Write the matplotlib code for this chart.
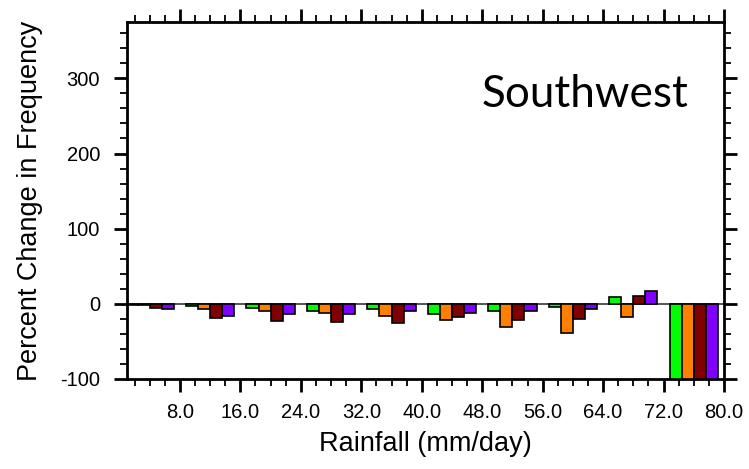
import matplotlib
matplotlib.use("Agg")
import matplotlib.pyplot as plt
from matplotlib.ticker import MultipleLocator, FixedLocator
import numpy as np

bin_starts = [0, 8, 16, 24, 32, 40, 48, 56, 64, 72]
series_colors = ["#00FF00", "#FF8000", "#800000", "#8000FF"]
green = [-1, -3, -5, -9, -7, -13, -9, -4, 9, -100]
orange = [-2, -7, -10, -12, -16, -22, -31, -39, -18, -100]
darkred = [-5, -19, -23, -24, -25, -18, -22, -20, 11, -100]
purple = [-7, -16, -14, -14, -9, -12, -9, -7, 17, -100]
series = [green, orange, darkred, purple]
xtick_vals = [8, 16, 24, 32, 40, 48, 56, 64, 72, 80]
xtick_labels = ["8.0", "16.0", "24.0", "32.0", "40.0", "48.0", "56.0", "64.0", "72.0", "80.0"]
ytick_vals = [-100, 0, 100, 200, 300]

plt.rcParams['font.family'] = ['Liberation Sans', 'DejaVu Sans']
plt.rcParams['axes.unicode_minus'] = False
fig = plt.figure(figsize=(7.49, 4.69), dpi=100)
ax = fig.add_axes([0.1696, 0.1919, 0.9666 - 0.1696, 0.9531 - 0.1919])

bw = 1.6
starts = np.array(bin_starts, dtype=float)
for i, (vals, c) in enumerate(zip(series, series_colors)):
    ax.bar(starts + 0.8 + bw * i, vals, width=bw, align='edge', color=c,
           edgecolor='black', linewidth=1.2, zorder=3)

ax.axhline(0, color='#555555', linewidth=1.4, zorder=2)

ax.set_xlim(1, 80)
ax.set_ylim(-100, 375)
ax.xaxis.set_major_locator(FixedLocator(xtick_vals))
ax.set_xticklabels(xtick_labels)
ax.xaxis.set_minor_locator(MultipleLocator(2))
ax.yaxis.set_major_locator(FixedLocator(ytick_vals))
ax.yaxis.set_minor_locator(MultipleLocator(20))

for s in ax.spines.values():
    s.set_linewidth(2.0)
ax.tick_params(which='both', direction='out', top=True, right=True,
               labeltop=False, labelright=False)
ax.tick_params(which='major', length=9.5, width=2.0, labelsize=14.5)
ax.tick_params(which='minor', length=5, width=1.3)
ax.tick_params(axis='y', which='major', pad=10)
ax.tick_params(axis='x', which='major', pad=8)

ax.set_ylabel("Percent Change in Frequency", fontsize=19.5, labelpad=12)
ax.set_xlabel("Rainfall (mm/day)", fontsize=19.5, labelpad=6)

ax.text(0.94, 0.762, "Southwest", transform=ax.transAxes, fontsize=31.7,
        family=['Lato', 'DejaVu Sans'], ha='right', va='baseline', color='black')

fig.savefig("out.png", dpi=100)
